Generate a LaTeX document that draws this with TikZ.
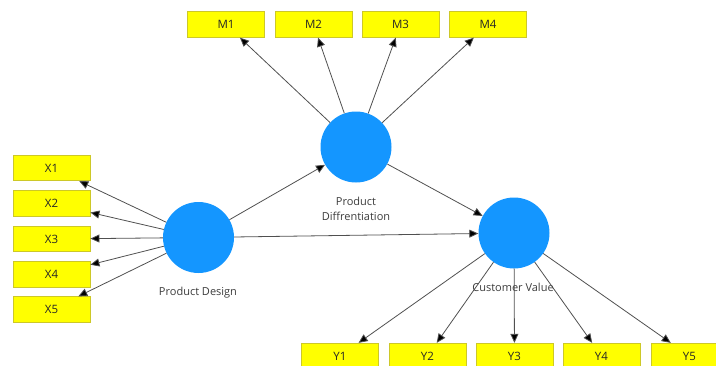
\documentclass[tikz,border=0pt]{standalone}
\usepackage{fontspec}
\setmainfont{Open Sans}
\usetikzlibrary{arrows.meta}
\definecolor{lvblue}{RGB}{20,150,255}
\definecolor{mvyellow}{RGB}{255,255,0}
\definecolor{mvedge}{RGB}{205,200,40}
\definecolor{pathgray}{RGB}{80,80,80}
\definecolor{lbltext}{RGB}{60,60,60}

\begin{document}
\begin{tikzpicture}[
  x=1pt, y=-1pt,
  latent/.style={circle, fill=lvblue, minimum size=71pt, inner sep=0pt},
  manifest/.style={rectangle, draw=mvedge, fill=mvyellow, line width=0.8pt,
    minimum width=77pt, minimum height=25.5pt, inner sep=0pt,
    font=\fontsize{11.5}{13}\selectfont, text=black!85},
  lvlabel/.style={font=\fontsize{11}{15.5}\selectfont, text=lbltext, align=center},
  path arrow/.style={draw=pathgray, line width=0.8pt,
    -{Triangle[length=9pt, width=8pt, fill=black]}},
  ]
  % fix the page to the reference size
  \useasboundingbox (0,0) rectangle (716,365);

  % latent variables
  \node[latent] (pd)    at (198.5,237.5) {};
  \node[latent] (pdiff) at (356,147) {};
  \node[latent] (cv)    at (514,233) {};

  % latent variable labels
  \node[lvlabel] (pdlbl)    at (198,293) {Product Design};
  \node[lvlabel] (pdifflbl) at (356,209) {Product\\Diffrentiation};
  \node[lvlabel] (cvlbl)    at (513,287) {Customer Value};

  % indicators of Product Design
  \foreach \i/\ypos in {1/168, 2/203.5, 3/239, 4/274.5, 5/309.5}
  {
    \node[manifest] (x\i) at (51.5,\ypos) {X\i};
  }
  % indicators of Product Diffrentiation
  \foreach \i/\xpos in {1/226, 2/313.5, 3/400.5, 4/488}
  {
    \node[manifest] (m\i) at (\xpos,24.5) {M\i};
  }
  % indicators of Customer Value
  \foreach \i/\xpos in {1/340, 2/427.5, 3/514.5, 4/601.5, 5/689.5}
  {
    \node[manifest] (y\i) at (\xpos,356) {Y\i};
  }

  % outer loadings
  \foreach \i in {1,...,5}
    \draw[path arrow] (pd) -- (x\i);
  \foreach \i in {1,...,4}
    \draw[path arrow] (pdiff) -- (m\i);
  \foreach \i in {1,...,5}
    \draw[path arrow] (cv) -- (y\i);

  % inner model
  \draw[path arrow] (pd) -- (pdiff);
  \draw[path arrow] (pd) -- (cv);
  \draw[path arrow] (pdiff) -- (cv);
\end{tikzpicture}
\end{document}
